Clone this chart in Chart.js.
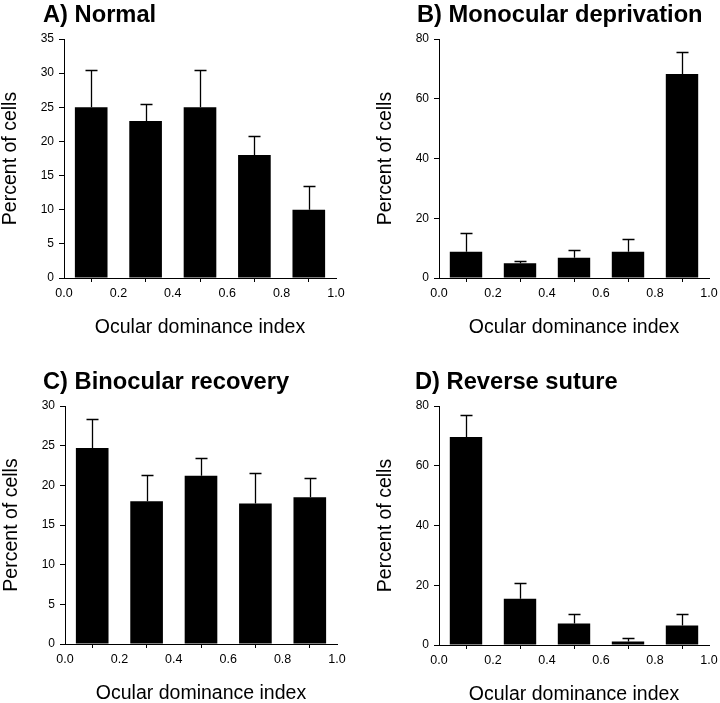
<!DOCTYPE html>
<html>
<head>
<meta charset="utf-8">
<script src="https://cdn.jsdelivr.net/npm/chart.js@4.4.0/dist/chart.umd.min.js"></script>
<style>
html,body{margin:0;padding:0;background:#fff;overflow:hidden;width:720px;height:703px;position:relative;}
canvas{position:absolute;}
</style>
</head>
<body>
<script>
// ---- data ----
const odiCenters = [0.1, 0.3, 0.5, 0.7, 0.9];
const xTickValues = [0, 0.2, 0.4, 0.6, 0.8, 1.0];

const normalPct = [25, 23, 25, 18, 10];
const normalErr = [5.5, 2.5, 5.5, 2.8, 3.5];

const mdPct = [8.8, 4.9, 6.8, 8.8, 68.3];
const mdErr = [6.3, 0.9, 2.5, 4.3, 7.3];

const recoveryPct = [24.7, 18.0, 21.2, 17.7, 18.5];
const recoveryErr = [3.7, 3.3, 2.3, 3.8, 2.4];

const reversePct = [69.6, 15.5, 7.2, 1.2, 6.5];
const reverseErr = [7.4, 5.4, 3.2, 1.3, 3.9];

const yTicksNormal = [0, 5, 10, 15, 20, 25, 30, 35];
const yTicksMD = [0, 20, 40, 60, 80];
const yTicksRecovery = [0, 5, 10, 15, 20, 25, 30];
const yTicksReverse = [0, 20, 40, 60, 80];

const panelTitles = ['A) Normal', 'B) Monocular deprivation', 'C) Binocular recovery', 'D) Reverse suture'];
const xAxisTitle = 'Ocular dominance index';
const yAxisTitle = 'Percent of cells';

// ---- layout (chart-area boxes in page pixels) ----
const FONT = '"Liberation Sans", Arial, Helvetica, sans-serif';
Chart.defaults.font.family = FONT;
Chart.defaults.color = '#000';

const panels = [
  {title: panelTitles[0], pct: normalPct,   err: normalErr,   yTicks: yTicksNormal,   box: {l: 64,  t: 39,  r: 336, b: 278}, dx: -21},
  {title: panelTitles[1], pct: mdPct,       err: mdErr,       yTicks: yTicksMD,       box: {l: 439, t: 39,  r: 709, b: 278}, dx: -22},
  {title: panelTitles[2], pct: recoveryPct, err: recoveryErr, yTicks: yTicksRecovery, box: {l: 65,  t: 406, r: 337, b: 644}, dx: -22},
  {title: panelTitles[3], pct: reversePct,  err: reverseErr,  yTicks: yTicksReverse,  box: {l: 439, t: 406, r: 709, b: 645}, dx: -24}
];

const Y_W = 65, X_H = 61, PAD_T = 45, PAD_R = 14;

function errorBarPlugin(errs) {
  return {
    id: 'errorBars',
    afterDatasetsDraw(chart) {
      const {ctx, scales: {x, y}} = chart;
      const data = chart.data.datasets[0].data;
      ctx.save();
      ctx.strokeStyle = '#000';
      ctx.lineWidth = 1.3;
      data.forEach((pt, i) => {
        const px = Math.round(x.getPixelForValue(pt.x)) + 0.5;
        const y0 = y.getPixelForValue(pt.y);
        const y1 = Math.round(y.getPixelForValue(pt.y + errs[i])) + 0.5;
        ctx.beginPath();
        ctx.moveTo(px, y0);
        ctx.lineTo(px, y1);
        ctx.moveTo(px - 6, y1);
        ctx.lineTo(px + 6, y1);
        ctx.stroke();
      });
      ctx.restore();
    }
  };
}

function panelTitlePlugin(text, dx) {
  return {
    id: 'panelTitle',
    afterDraw(chart) {
      const {ctx, chartArea} = chart;
      ctx.save();
      ctx.font = 'bold 23.7px ' + FONT;
      ctx.fillStyle = '#000';
      ctx.textAlign = 'left';
      ctx.textBaseline = 'alphabetic';
      ctx.fillText(text, chartArea.left + dx, chartArea.top - 17);
      ctx.restore();
    }
  };
}

panels.forEach(p => {
  const {l, t, r, b} = p.box;
  const cv = document.createElement('canvas');
  const left = l - Y_W, top = t - PAD_T;
  const w = (r + PAD_R) - left, h = (b + X_H) - top;
  cv.width = w; cv.height = h;
  cv.style.left = left + 'px'; cv.style.top = top + 'px';
  cv.style.width = w + 'px'; cv.style.height = h + 'px';
  document.body.appendChild(cv);

  new Chart(cv, {
    type: 'bar',
    data: {
      datasets: [{
        data: odiCenters.map((c, i) => ({x: c, y: p.pct[i]})),
        backgroundColor: '#000',
        borderWidth: 0,
        categoryPercentage: 0.6,
        barPercentage: 1.0
      }]
    },
    options: {
      responsive: false,
      animation: false,
      devicePixelRatio: 1,
      layout: {padding: {top: PAD_T, right: PAD_R, bottom: 0, left: 0}},
      plugins: {legend: {display: false}, tooltip: {enabled: false}},
      scales: {
        x: {
          type: 'linear', min: 0, max: 1, offset: false,
          afterBuildTicks: s => { s.ticks = xTickValues.map(v => ({value: v})); },
          afterFit: s => { s.height = X_H; },
          ticks: {callback: v => Number(v).toFixed(1), font: {size: 12.5}, color: '#000', padding: 4, maxRotation: 0, autoSkip: false},
          grid: {display: true, drawOnChartArea: false, drawTicks: true, tickLength: 4, color: '#000', lineWidth: 1},
          border: {display: true, color: '#000', width: 1},
          title: {display: true, text: xAxisTitle, font: {size: 19.5}, color: '#000', padding: {top: 0, bottom: 0}}
        },
        y: {
          type: 'linear', min: 0, max: p.yTicks[p.yTicks.length - 1],
          afterBuildTicks: s => { s.ticks = p.yTicks.map(v => ({value: v})); },
          afterFit: s => { s.width = Y_W; },
          ticks: {font: {size: 12}, color: '#000', padding: 5, autoSkip: false},
          grid: {display: true, drawOnChartArea: false, drawTicks: true, tickLength: 5, color: '#000', lineWidth: 1},
          border: {display: true, color: '#000', width: 1},
          title: {display: true, text: yAxisTitle, font: {size: 19.5}, color: '#000', padding: {top: 0, bottom: 0}}
        }
      }
    },
    plugins: [errorBarPlugin(p.err), panelTitlePlugin(p.title, p.dx)]
  });
});
</script>
</body>
</html>
